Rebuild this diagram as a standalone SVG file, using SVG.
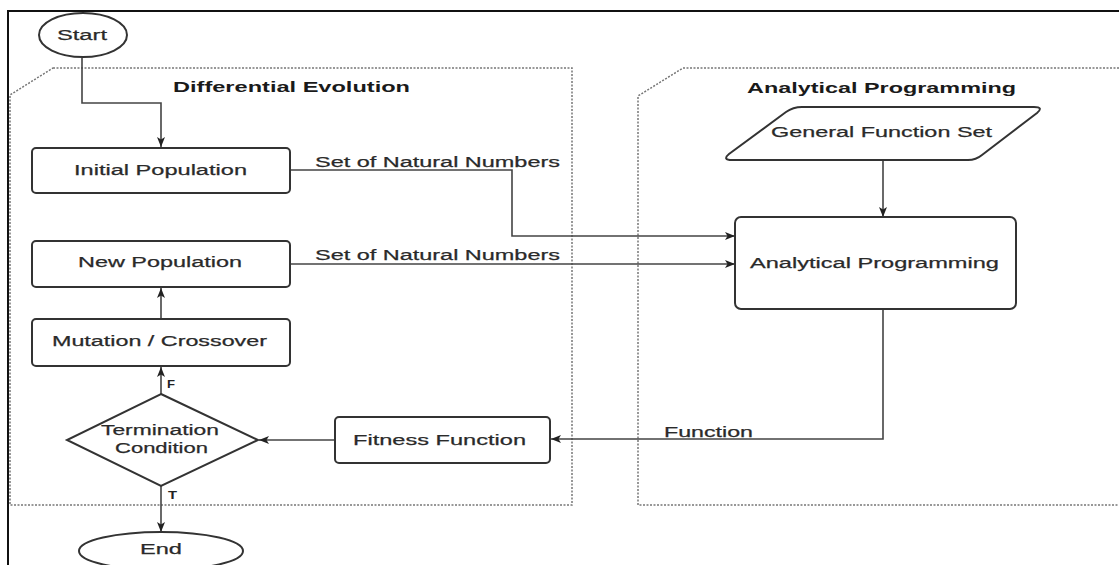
<svg xmlns="http://www.w3.org/2000/svg" width="1119" height="565" viewBox="0 0 1119 565">
  <defs>
    <style>
      .frame { fill: none; stroke: #111; stroke-width: 2; }
      .panel { fill: none; stroke: #777; stroke-width: 1.5; stroke-dasharray: 2 1.5; }
      .box { fill: #fff; stroke: #333; stroke-width: 2; }
      .edge { fill: none; stroke: #444; stroke-width: 1.6; }
      .lbl { font-family: "Liberation Sans", Arial, sans-serif; font-size: 15.5px; fill: #2a2a2a; stroke: #2a2a2a; stroke-width: 0.25; }
      .title { font-family: "Liberation Sans", Arial, sans-serif; font-size: 14.5px; font-weight: bold; fill: #1a1a1a; }
      .tf { font-family: "Liberation Sans", Arial, sans-serif; font-size: 10px; font-weight: bold; fill: #222; }
    </style>
    <marker id="arrow" viewBox="0 0 10 8" refX="10" refY="4" markerWidth="10" markerHeight="8" markerUnits="userSpaceOnUse" orient="auto">
      <path d="M0,0 L10,4 L0,8 L2.5,4 z" fill="#222"/>
    </marker>
  </defs>

  <rect width="1119" height="565" fill="#fff"/>

  <!-- outer frame (top and left edges) -->
  <path class="frame" d="M8,565 L8,11 L1119,11"/>

  <!-- swimlane panels -->
  <g id="panel-de">
    <path class="panel" d="M53,68 L572,68 L572,505 L10,505 L10,95 Z"/>
    <text class="title" x="173" y="92" textLength="237" lengthAdjust="spacingAndGlyphs">Differential Evolution</text>
  </g>
  <g id="panel-ap">
    <path class="panel" d="M1119,68 L683,68 L638,96 L638,505 L1119,505"/>
    <text class="title" x="747" y="93" textLength="269" lengthAdjust="spacingAndGlyphs">Analytical Programming</text>
  </g>

  <!-- connectors -->
  <g id="connectors">
    <path class="edge" d="M82,58 L82,103 L161,103 L161,147" marker-end="url(#arrow)"/>
    <path class="edge" d="M290,170 L512,170 L512,236 L735,236" marker-end="url(#arrow)"/>
    <path class="edge" d="M290,264 L735,264" marker-end="url(#arrow)"/>
    <path class="edge" d="M161,319 L161,288" marker-end="url(#arrow)"/>
    <path class="edge" d="M161,394 L161,367" marker-end="url(#arrow)"/>
    <path class="edge" d="M161,486 L161,532" marker-end="url(#arrow)"/>
    <path class="edge" d="M883,160 L883,217" marker-end="url(#arrow)"/>
    <path class="edge" d="M883,310 L883,439 L551,439" marker-end="url(#arrow)"/>
    <path class="edge" d="M335,440 L259,440" marker-end="url(#arrow)"/>
    <text class="lbl" x="315" y="167" textLength="245" lengthAdjust="spacingAndGlyphs">Set of Natural Numbers</text>
    <text class="lbl" x="315" y="260" textLength="245" lengthAdjust="spacingAndGlyphs">Set of Natural Numbers</text>
    <text class="lbl" x="664" y="437" textLength="89" lengthAdjust="spacingAndGlyphs">Function</text>
    <text class="tf" x="167" y="388" textLength="8" lengthAdjust="spacingAndGlyphs">F</text>
    <text class="tf" x="168" y="499" textLength="9" lengthAdjust="spacingAndGlyphs">T</text>
  </g>

  <!-- nodes -->
  <g id="start">
    <ellipse class="box" cx="83" cy="35" rx="44" ry="22"/>
    <text class="lbl" x="57" y="40" textLength="50" lengthAdjust="spacingAndGlyphs">Start</text>
  </g>
  <g id="initial-population">
    <rect class="box" x="32" y="148" width="258" height="45" rx="4"/>
    <text class="lbl" x="74" y="175" textLength="173" lengthAdjust="spacingAndGlyphs">Initial Population</text>
  </g>
  <g id="new-population">
    <rect class="box" x="32" y="241" width="258" height="46" rx="4"/>
    <text class="lbl" x="78" y="267" textLength="164" lengthAdjust="spacingAndGlyphs">New Population</text>
  </g>
  <g id="mutation-crossover">
    <rect class="box" x="32" y="319" width="258" height="47" rx="4"/>
    <text class="lbl" x="52" y="346" textLength="215" lengthAdjust="spacingAndGlyphs">Mutation / Crossover</text>
  </g>
  <g id="termination-condition">
    <path class="box" d="M161,394 L258,440 L161,486 L67,440 Z"/>
    <text class="lbl" x="101" y="435" textLength="118" lengthAdjust="spacingAndGlyphs">Termination</text>
    <text class="lbl" x="115" y="453" textLength="93" lengthAdjust="spacingAndGlyphs">Condition</text>
  </g>
  <g id="end">
    <ellipse class="box" cx="161" cy="551" rx="82" ry="19"/>
    <text class="lbl" x="140" y="554" textLength="42" lengthAdjust="spacingAndGlyphs">End</text>
  </g>
  <g id="fitness-function">
    <rect class="box" x="335" y="417" width="215" height="46" rx="4"/>
    <text class="lbl" x="353" y="445" textLength="173" lengthAdjust="spacingAndGlyphs">Fitness Function</text>
  </g>
  <g id="general-function-set">
    <path class="box" d="M802,107 L1034,107 Q1044,107 1037,113 L982,155 Q976,160 968,160 L732,160 Q722,160 729,154 L786,112 Q793,107 802,107 Z"/>
    <text class="lbl" x="771" y="137" textLength="221" lengthAdjust="spacingAndGlyphs">General Function Set</text>
  </g>
  <g id="analytical-programming">
    <rect class="box" x="735" y="217" width="281" height="92" rx="6"/>
    <text class="lbl" x="750" y="268" textLength="249" lengthAdjust="spacingAndGlyphs">Analytical Programming</text>
  </g>
</svg>
